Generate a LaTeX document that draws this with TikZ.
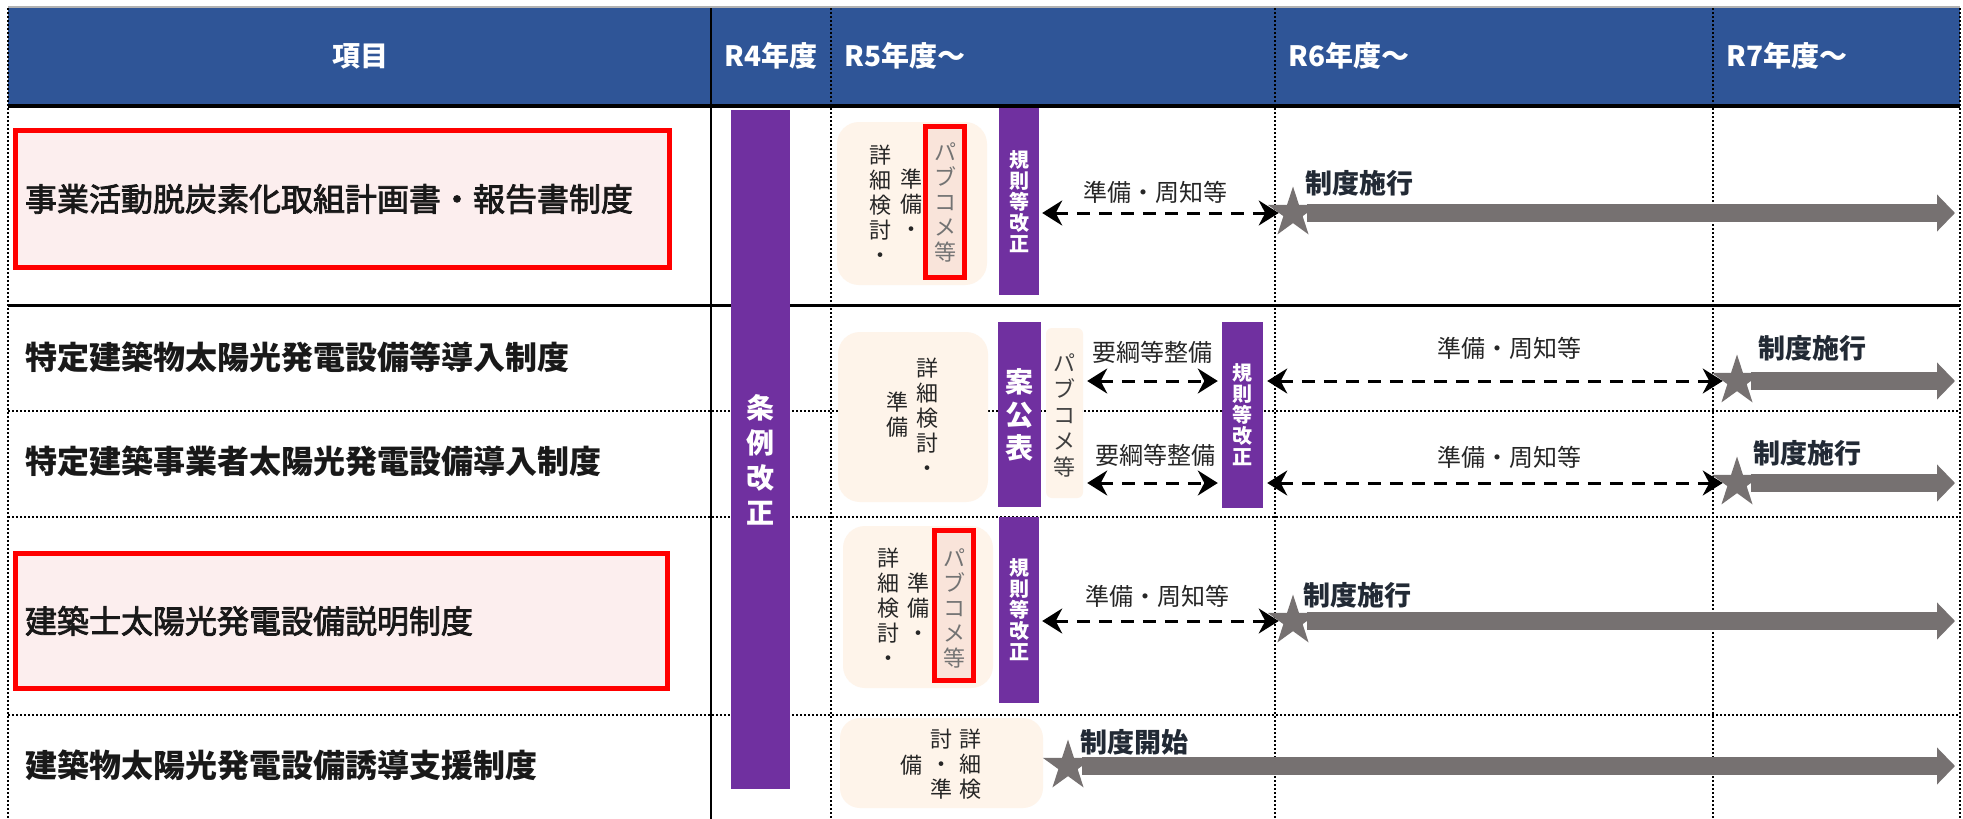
\documentclass[tikz,border=0pt]{standalone}
\usepackage{fontspec}
\setmainfont{Noto Sans CJK JP}
\newfontfamily\itemfont[FakeBold=2.5]{Noto Sans CJK JP}
\usetikzlibrary{arrows.meta,positioning,shapes.geometric,calc}
\definecolor{HeadBlue}{HTML}{2F5597}
\definecolor{BarPurple}{HTML}{7030A0}
\definecolor{StarGray}{HTML}{767171}
\definecolor{PrepBeige}{HTML}{FEF4EA}
\definecolor{MarkRed}{HTML}{FF0000}
\definecolor{ItemPink}{HTML}{FCEEEE}
\definecolor{PubPink}{HTML}{F9E4DA}
\definecolor{TextDark}{HTML}{262626}
\definecolor{GoNavy}{HTML}{222A35}

\begin{document}
\begin{tikzpicture}[
    x=1pt, y=-1pt,
    hdr/.style={text=white, inner sep=0pt, font=\fontsize{28}{32}\selectfont\bfseries},
    item/.style={anchor=west, inner sep=0pt, text=black!90, font=\fontsize{32}{36}\selectfont\bfseries},
    itembox/.style={draw=MarkRed, line width=5pt, fill=ItemPink, inner xsep=9.5pt, inner ysep=0pt, align=left, text=black!90, font=\fontsize{32}{36}\selectfont\itemfont},
    gridsolid/.style={line width=3pt},
    griddot/.style={line width=2pt, dash pattern=on 2pt off 2pt},
    pbar/.style={fill=BarPurple, inner sep=0pt, text=white, align=center, font=\fontsize{20}{21}\selectfont\bfseries},
    prep/.style={fill=PrepBeige, rounded corners=22pt, inner sep=0pt},
    pubbox/.style={draw=MarkRed, line width=5pt, fill=PubPink, inner sep=0pt, minimum width=39pt, minimum height=151pt},
    vcol/.style={align=center, inner sep=0pt, text=TextDark, font=\fontsize{22}{25}\selectfont},
    pubtext/.style={vcol, text=black!55},
    lbl/.style={inner sep=0pt, text=TextDark, font=\fontsize{24}{27}\selectfont},
    golbl/.style={anchor=west, inner sep=0pt, text=GoNavy, font=\fontsize{27}{30}\selectfont\bfseries},
    startstar/.style={star, star points=5, star point ratio=2.618, fill=StarGray, inner sep=0pt, minimum size=53pt},
    dasharrow/.style={{Stealth[length=20pt,width=25pt]}-{Stealth[length=20pt,width=25pt]}, line width=3pt, dash pattern=on 13pt off 9pt},
    bigarrow/.style={draw=StarGray, line width=18pt, -{Triangle[length=18pt,width=36pt]}}
  ]
  \useasboundingbox (0,0) rectangle (1963,819);
  \fill[white] (0,0) rectangle (1963,819);

  % Header
  \fill[HeadBlue] (8,8) rectangle (1960,105);
  \draw[black!30, line width=1.5pt] (8,7) -- (1960,7);
  \node[hdr] (hitem) at (360,56) {項目};
  \node[hdr, anchor=west] (hr4) at (724,56) {R4年度};
  \node[hdr, anchor=west] (hr5) at (844,56) {R5年度～};
  \node[hdr, anchor=west] (hr6) at (1288,56) {R6年度～};
  \node[hdr, anchor=west] (hr7) at (1726,56) {R7年度～};

  % Grid
  \draw[line width=4pt] (8,106) -- (1960,106);
  \draw[gridsolid] (8,305) -- (1960,305);
  \foreach \y in {411,517,715}
    \draw[griddot] (8,\y) -- (1960,\y);
  \draw[line width=2.5pt] (711,8) -- (711,819);
  \foreach \x in {8,831,1275,1713,1960}
    \draw[griddot] (\x,8) -- (\x,819);

  % Items
  \node[itembox, text width=635pt, minimum height=137pt] (it1) at (342.5,199) {事業活動脱炭素化取組計画書・報告書制度};
  \node[item] (it2) at (25,357) {特定建築物太陽光発電設備等導入制度};
  \node[item] (it3) at (25,461) {特定建築事業者太陽光発電設備導入制度};
  \node[itembox, text width=633pt, minimum height=135pt] (it4) at (341.5,621) {建築士太陽光発電設備説明制度};
  \node[item] (it5) at (25,765) {建築物太陽光発電設備誘導支援制度};

  % R4
  \node[pbar, minimum width=59pt, minimum height=679pt] (jorei) at (760.5,449.5) {};
  \node[pbar, font=\fontsize{28}{35}\selectfont\bfseries] (joreitxt) at (760.5,460) {条\\例\\改\\正};

  % Row 1
  \node[prep, minimum width=150pt, minimum height=163pt] (p1) at (912,203.5) {};
  \node[pubbox] (pb1) at (945,202) {};
  \node[vcol] (p1a) at (880,204) {詳\\細\\検\\討\\・};
  \node[vcol] (p1b) at (911,203) {準\\備\\・};
  \node[pubtext] (p1c) at (945,202) {パ\\ブ\\コ\\メ\\等};
  \node[pbar, minimum width=40pt, minimum height=187pt] (k1) at (1019,201.5) {規\\則\\等\\改\\正};
  \node[startstar] (st1) at (1293,213) {};
  \draw[dasharrow, shorten <=3pt] (k1.east |- st1) -- (st1);
  \node[lbl] (l1) at (1155,192) {準備・周知等};
  \node[golbl] (g1) at (1305,183) {制度施行};
  \coordinate (rend) at (1955,0);
  \draw[bigarrow] (st1) -- (st1 -| rend);

  % Rows 2 and 3
  \node[prep, minimum width=150pt, minimum height=170pt] (p2) at (913,417) {};
  \node[vcol] (p2a) at (927,417) {詳\\細\\検\\討\\・};
  \node[vcol] (p2b) at (897,415) {準\\備};
  \node[pbar, minimum width=43pt, minimum height=185pt, font=\fontsize{28}{33}\selectfont\bfseries] (an2) at (1019.5,414.5) {案\\公\\表};
  \node[prep, rounded corners=6pt, minimum width=37pt, minimum height=170pt] (pc2) at (1064.5,413) {};
  \node[vcol, text=black!75, font=\fontsize{22}{26}\selectfont] (pc2t) at (1064.5,415) {パ\\ブ\\コ\\メ\\等};
  \node[pbar, minimum width=41pt, minimum height=186pt] (k2) at (1242.5,415) {規\\則\\等\\改\\正};
  \node[startstar] (st2) at (1737,381) {};
  \node[startstar] (st3) at (1737,483) {};
  \draw[dasharrow, shorten <=4pt, shorten >=4pt] (pc2.east |- st2) -- (k2.west |- st2);
  \draw[dasharrow, shorten <=4pt, shorten >=4pt] (pc2.east |- st3) -- (k2.west |- st3);
  \draw[dasharrow, shorten <=4pt] (k2.east |- st2) -- (st2);
  \draw[dasharrow, shorten <=4pt] (k2.east |- st3) -- (st3);
  \node[lbl] (l2a) at (1152,352) {要綱等整備};
  \node[lbl] (l3a) at (1155,455) {要綱等整備};
  \node[lbl] (l2b) at (1509,348) {準備・周知等};
  \node[lbl] (l3b) at (1509,457) {準備・周知等};
  \node[golbl] (g2) at (1758,348) {制度施行};
  \node[golbl] (g3) at (1753,453) {制度施行};
  \draw[bigarrow] (st2) -- (st2 -| rend);
  \draw[bigarrow] (st3) -- (st3 -| rend);

  % Row 4
  \node[prep, minimum width=150pt, minimum height=162pt] (p4) at (918,607) {};
  \node[pubbox, minimum height=150pt] (pb4) at (954,605.5) {};
  \node[vcol] (p4a) at (888,607.5) {詳\\細\\検\\討\\・};
  \node[vcol] (p4b) at (918,607) {準\\備\\・};
  \node[pubtext] (p4c) at (954,608) {パ\\ブ\\コ\\メ\\等};
  \node[pbar, minimum width=40pt, minimum height=186pt] (k4) at (1019,610) {規\\則\\等\\改\\正};
  \node[startstar] (st4) at (1293,621) {};
  \draw[dasharrow, shorten <=3pt] (k4.east |- st4) -- (st4);
  \node[lbl] (l4) at (1157,596) {準備・周知等};
  \node[golbl] (g4) at (1303,595) {制度施行};
  \draw[bigarrow] (st4) -- (st4 -| rend);

  % Row 5
  \node[prep, rounded corners=20pt, minimum width=203pt, minimum height=90pt] (p5) at (941.5,763) {};
  \node[vcol] (p5a) at (970,764) {詳\\細\\検};
  \node[vcol] (p5b) at (941,764) {討\\・\\準};
  \node[vcol] (p5c) at (911,765) {備};
  \node[startstar] (st5) at (1068,766) {};
  \node[golbl] (g5) at (1080,742) {制度開始};
  \draw[bigarrow] (st5) -- (st5 -| rend);
\end{tikzpicture}
\end{document}
